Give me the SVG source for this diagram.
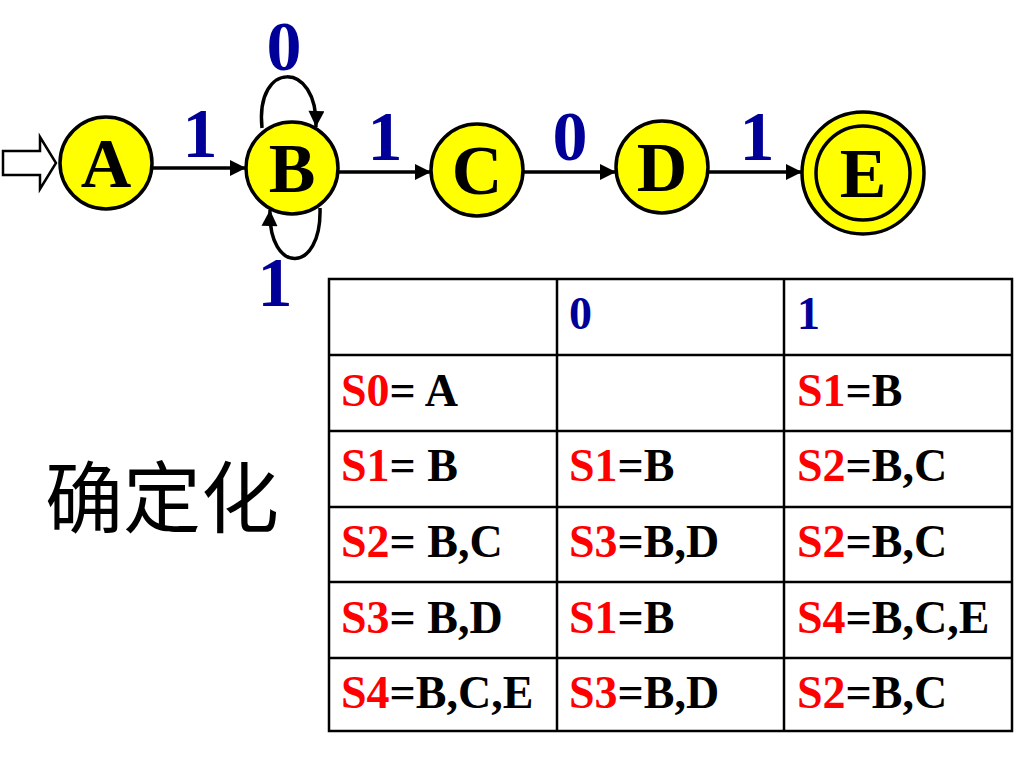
<svg xmlns="http://www.w3.org/2000/svg" width="1024" height="768" viewBox="0 0 1024 768">
<style>
.node{fill:#FFFF00;stroke:#000;stroke-width:3.5}
.nl{font-family:"Liberation Serif","Times New Roman",serif;font-weight:bold;font-size:70px;fill:#000;text-anchor:middle}
.el{font-family:"Liberation Serif","Times New Roman",serif;font-weight:bold;font-size:70px;fill:#000099;text-anchor:middle}
.edge{fill:none;stroke:#000;stroke-width:3.5}
.grid{stroke:#000;stroke-width:2.5;fill:none}
.t{font-family:"Liberation Serif","Times New Roman",serif;font-weight:bold;font-size:46px;fill:#000}
.r{fill:#FF0000}
.b{fill:#000099}
.cjk{font-family:"Noto Sans CJK SC","Noto Sans",sans-serif;font-size:78px;fill:#000}
</style>
<defs>
<marker id="arr" viewBox="0 0 10 10" refX="10" refY="5" markerWidth="20" markerHeight="16" markerUnits="userSpaceOnUse" orient="auto">
<path d="M0,0 L10,5 L0,10 z" fill="#000"/>
</marker>
</defs>
<rect width="1024" height="768" fill="#fff"/>
<g id="connectors">
<polygon points="3,151 40,151 40,137 56,163 40,189 40,175 3,175" fill="#fff" stroke="#000" stroke-width="2.5"/>
<path class="edge" d="M152,168 L246,168" marker-end="url(#arr)"/>
<path class="edge" d="M338,172 L431,172" marker-end="url(#arr)"/>
<path class="edge" d="M523,172 L616,172" marker-end="url(#arr)"/>
<path class="edge" d="M708,172 L802,172" marker-end="url(#arr)"/>
<path class="edge" d="M262,128 C255,60 318,60 316,127" marker-end="url(#arr)"/>
<path class="edge" d="M320,208 C322,275 268,275 270,210" marker-end="url(#arr)"/>
<text class="el" x="200" y="157">1</text>
<text class="el" x="284" y="70">0</text>
<text class="el" x="385" y="160">1</text>
<text class="el" x="570" y="160">0</text>
<text class="el" x="757" y="160">1</text>
<text class="el" x="275" y="306">1</text>
</g>
<g id="A"><circle class="node" cx="106" cy="163" r="46"/><text class="nl" x="106" y="187">A</text></g>
<g id="B"><circle class="node" cx="292" cy="168" r="46"/><text class="nl" x="292" y="192">B</text></g>
<g id="C"><circle class="node" cx="477" cy="170" r="46"/><text class="nl" x="477" y="194">C</text></g>
<g id="D"><circle class="node" cx="662" cy="167" r="46"/><text class="nl" x="662" y="191">D</text></g>
<g id="E"><circle class="node" cx="863" cy="173" r="61"/><circle class="node" cx="863" cy="173" r="47"/><text class="nl" x="863" y="197">E</text></g>
<g id="label"><text class="cjk" x="45" y="527">确定化</text></g>
<g id="table">
<rect class="grid" x="329" y="279" width="683" height="452"/>
<path class="grid" d="M557,279 V731 M784,279 V731 M329,355 H1012 M329,431 H1012 M329,507 H1012 M329,582 H1012 M329,658 H1012"/>
<text class="t b" x="569" y="329">0</text>
<text class="t b" x="797" y="329">1</text>
<text class="t" x="341" y="406"><tspan class="r">S0</tspan>= A</text>
<text class="t" x="797" y="406"><tspan class="r">S1</tspan>=B</text>
<text class="t" x="341" y="481"><tspan class="r">S1</tspan>= B</text>
<text class="t" x="569" y="481"><tspan class="r">S1</tspan>=B</text>
<text class="t" x="797" y="481"><tspan class="r">S2</tspan>=B,C</text>
<text class="t" x="341" y="557"><tspan class="r">S2</tspan>= B,C</text>
<text class="t" x="569" y="557"><tspan class="r">S3</tspan>=B,D</text>
<text class="t" x="797" y="557"><tspan class="r">S2</tspan>=B,C</text>
<text class="t" x="341" y="633"><tspan class="r">S3</tspan>= B,D</text>
<text class="t" x="569" y="633"><tspan class="r">S1</tspan>=B</text>
<text class="t" x="797" y="633"><tspan class="r">S4</tspan>=B,C,E</text>
<text class="t" x="341" y="708"><tspan class="r">S4</tspan>=B,C,E</text>
<text class="t" x="569" y="708"><tspan class="r">S3</tspan>=B,D</text>
<text class="t" x="797" y="708"><tspan class="r">S2</tspan>=B,C</text>
</g>
</svg>
